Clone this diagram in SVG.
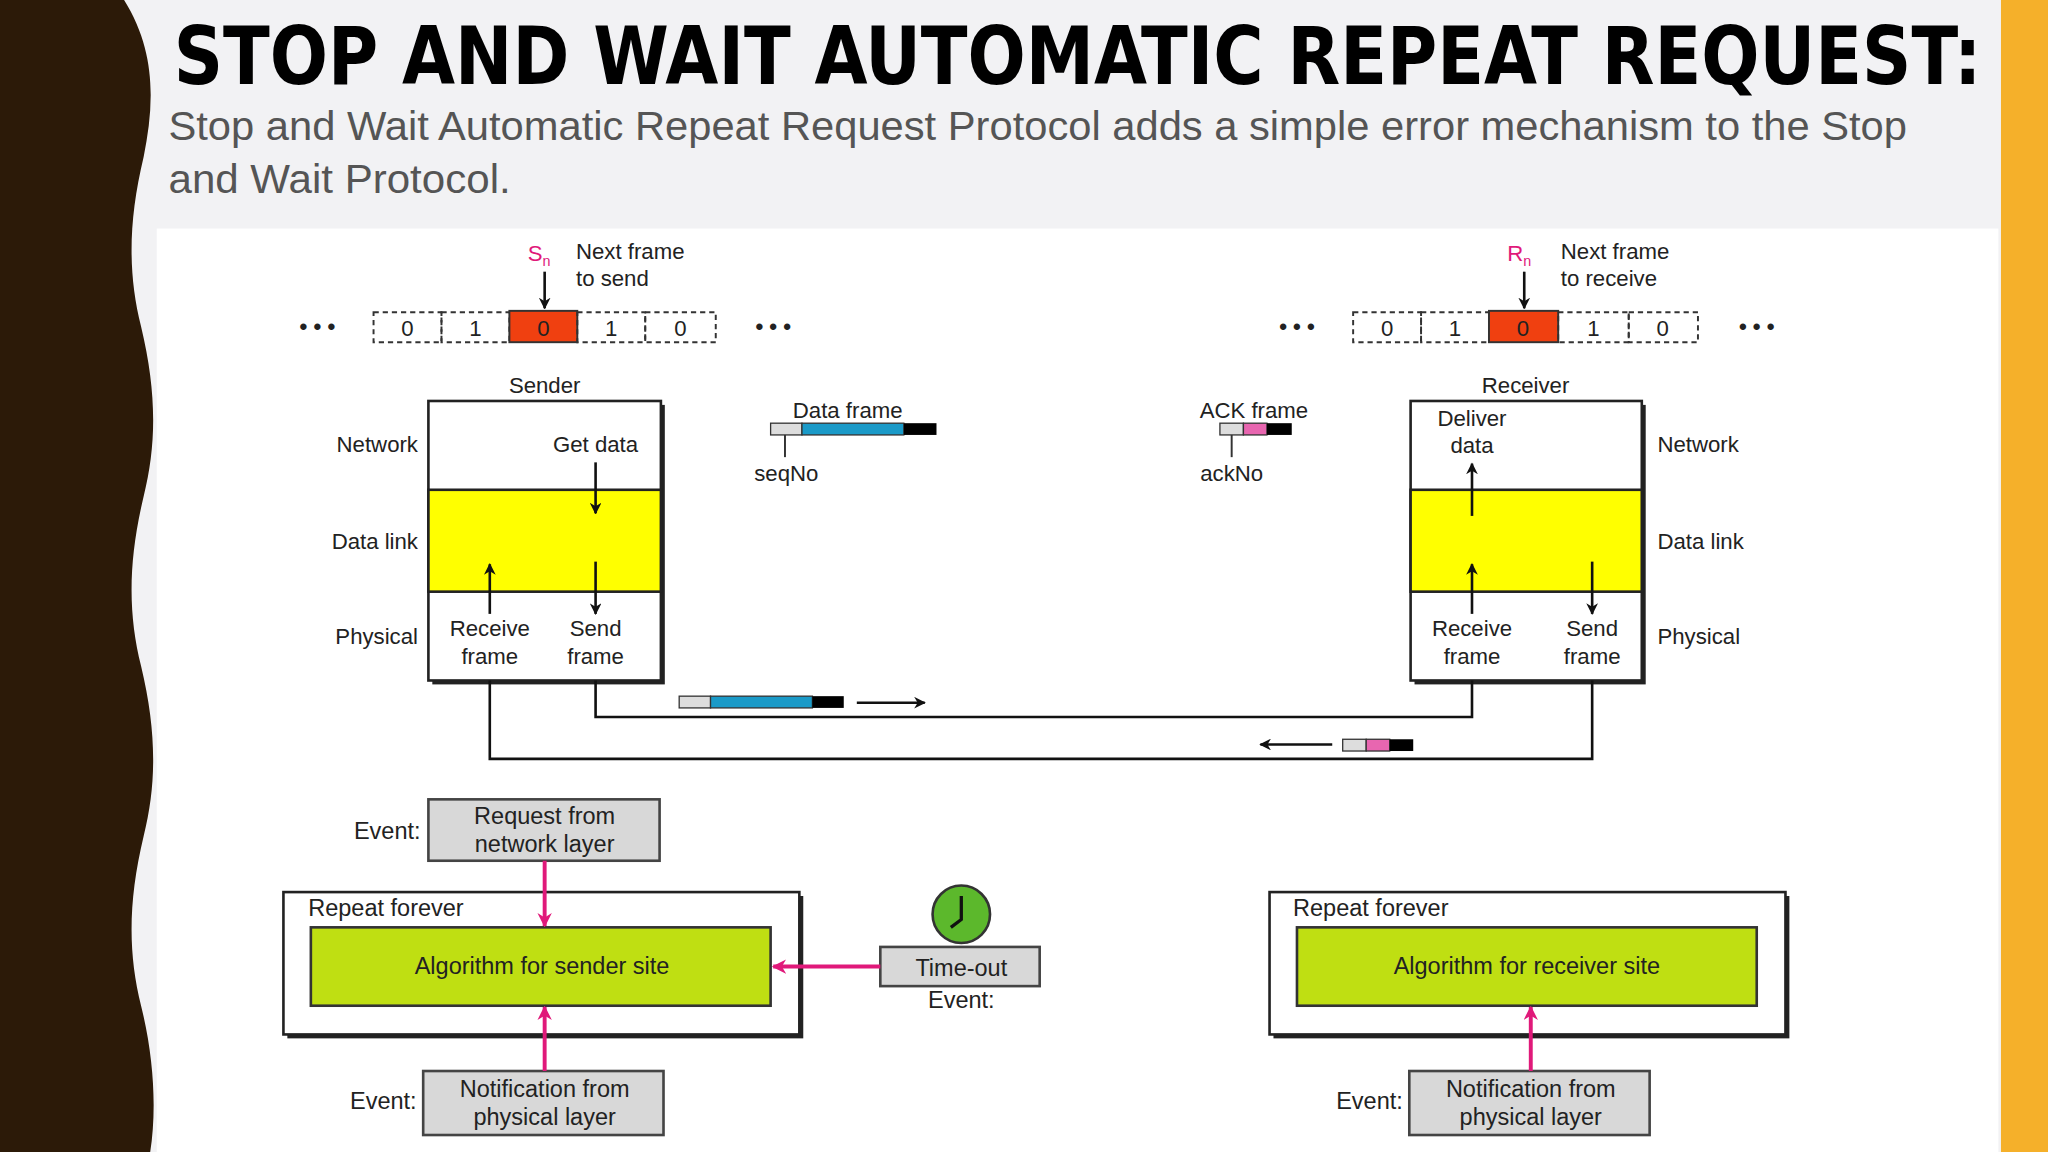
<svg xmlns="http://www.w3.org/2000/svg" width="2048" height="1152" viewBox="0 0 2048 1152">
<defs>
<marker id="ab" viewBox="0 0 10 10" refX="9" refY="5" markerWidth="9" markerHeight="9" orient="auto" markerUnits="userSpaceOnUse"><path d="M0,0 L10,5 L0,10 L3,5 z" fill="#111"/></marker>
<marker id="ap" viewBox="0 0 10 10" refX="9" refY="5" markerWidth="11" markerHeight="11" orient="auto" markerUnits="userSpaceOnUse"><path d="M0,0 L10,5 L0,10 L3,5 z" fill="#e0197a"/></marker>
<style>
text{font-family:"Liberation Sans",Arial,sans-serif;fill:#222}
.s{font-size:17px}
.m{text-anchor:middle}
.e{text-anchor:end}
.b{font-size:18px}
.ln{stroke:#111;stroke-width:2;fill:none}
.ar{stroke:#111;stroke-width:2;marker-end:url(#ab)}
.pk{stroke:#e0197a;stroke-width:3;marker-end:url(#ap)}
.cell{fill:none;stroke:#333;stroke-width:1.5;stroke-dasharray:4,3}
.box{fill:#fff;stroke:#222;stroke-width:2}
.gr{fill:#d8d8d8;stroke:#444;stroke-width:2}
.alg{fill:#bfdf12;stroke:#333;stroke-width:2}
</style>
</defs>
<g transform="scale(1.30612)">
<rect width="1568" height="882" fill="#f2f2f4"/>
<rect x="1532" y="0" width="36" height="882" fill="#f5b02a"/>
<path d="M0,0 L95,0 C120,40 118,80 110,120 C98,170 98,210 108,250 C120,300 120,340 110,380 C98,430 98,470 108,510 C120,560 120,600 110,640 C98,690 98,730 108,770 C118,810 120,850 115,882 L0,882 z" fill="#2c1a08"/>
<rect x="120" y="175" width="1410" height="707" fill="#fff"/>
<text x="133" y="64" font-weight="bold" font-size="62" textLength="1384" lengthAdjust="spacingAndGlyphs" style="fill:#000;font-family:'DejaVu Sans Condensed','Liberation Sans',sans-serif">STOP AND WAIT AUTOMATIC REPEAT REQUEST:</text>
<text x="129" y="107" font-size="31" textLength="1331" lengthAdjust="spacingAndGlyphs" style="fill:#555">Stop and Wait Automatic Repeat Request Protocol adds a simple error mechanism to the Stop</text>
<text x="129" y="148" font-size="31" textLength="262" lengthAdjust="spacingAndGlyphs" style="fill:#555">and Wait Protocol.</text>

<g id="sender-window">
<text x="404" y="200" class="s" style="fill:#e0197a">S<tspan font-size="11" dy="4">n</tspan></text>
<line x1="417" y1="208" x2="417" y2="236" class="ar"/>
<text x="441" y="198" class="s">Next frame</text><text x="441" y="219" class="s">to send</text>
<text x="243" y="256" class="s m" font-weight="bold">• • •</text><text x="592" y="256" class="s m" font-weight="bold">• • •</text>
<rect x="286" y="239" width="52" height="23" class="cell"/><rect x="338" y="239" width="52" height="23" class="cell"/>
<rect x="390" y="238" width="52" height="24" fill="#f04010" stroke="#333" stroke-width="1.5"/>
<rect x="442" y="239" width="52" height="23" class="cell"/><rect x="494" y="239" width="54" height="23" class="cell"/>
<text x="312" y="257" class="s m">0</text><text x="364" y="257" class="s m">1</text><text x="416" y="257" class="s m">0</text><text x="468" y="257" class="s m">1</text><text x="521" y="257" class="s m">0</text>
</g>
<g id="receiver-window">
<text x="1154" y="200" class="s" style="fill:#e0197a">R<tspan font-size="11" dy="4">n</tspan></text>
<line x1="1167" y1="208" x2="1167" y2="236" class="ar"/>
<text x="1195" y="198" class="s">Next frame</text><text x="1195" y="219" class="s">to receive</text>
<text x="993" y="256" class="s m" font-weight="bold">• • •</text><text x="1345" y="256" class="s m" font-weight="bold">• • •</text>
<rect x="1036" y="239" width="52" height="23" class="cell"/><rect x="1088" y="239" width="52" height="23" class="cell"/>
<rect x="1140" y="238" width="53" height="24" fill="#f04010" stroke="#333" stroke-width="1.5"/>
<rect x="1193" y="239" width="54" height="23" class="cell"/><rect x="1247" y="239" width="53" height="23" class="cell"/>
<text x="1062" y="257" class="s m">0</text><text x="1114" y="257" class="s m">1</text><text x="1166" y="257" class="s m">0</text><text x="1220" y="257" class="s m">1</text><text x="1273" y="257" class="s m">0</text>
</g>

<g id="sender">
<rect x="331" y="310" width="178" height="214" fill="#222"/>
<rect x="328" y="307" width="178" height="214" class="box"/>
<rect x="328" y="375" width="178" height="78" fill="#ffff00" stroke="#222" stroke-width="2"/>
<text x="417" y="301" class="s m">Sender</text>
<text x="320" y="346" class="s e">Network</text><text x="320" y="420" class="s e">Data link</text><text x="320" y="493" class="s e">Physical</text>
<text x="456" y="346" class="s m">Get data</text>
<line x1="456" y1="354" x2="456" y2="393" class="ar"/>
<line x1="375" y1="470" x2="375" y2="432" class="ar"/>
<line x1="456" y1="430" x2="456" y2="470" class="ar"/>
<text x="375" y="487" class="s m">Receive</text><text x="375" y="508" class="s m">frame</text>
<text x="456" y="487" class="s m">Send</text><text x="456" y="508" class="s m">frame</text>
</g>
<g id="receiver">
<rect x="1083" y="310" width="177" height="214" fill="#222"/>
<rect x="1080" y="307" width="177" height="214" class="box"/>
<rect x="1080" y="375" width="177" height="78" fill="#ffff00" stroke="#222" stroke-width="2"/>
<text x="1168" y="301" class="s m">Receiver</text>
<text x="1269" y="346" class="s">Network</text><text x="1269" y="420" class="s">Data link</text><text x="1269" y="493" class="s">Physical</text>
<text x="1127" y="326" class="s m">Deliver</text><text x="1127" y="347" class="s m">data</text>
<line x1="1127" y1="395" x2="1127" y2="355" class="ar"/>
<line x1="1127" y1="470" x2="1127" y2="432" class="ar"/>
<line x1="1219" y1="430" x2="1219" y2="470" class="ar"/>
<text x="1127" y="487" class="s m">Receive</text><text x="1127" y="508" class="s m">frame</text>
<text x="1219" y="487" class="s m">Send</text><text x="1219" y="508" class="s m">frame</text>
</g>

<g id="legend">
<text x="649" y="320" class="s m">Data frame</text>
<rect x="590" y="324" width="24" height="9" fill="#ddd" stroke="#333"/><rect x="614" y="324" width="78" height="9" fill="#1a9ac8" stroke="#333"/><rect x="692" y="324" width="25" height="9" fill="#000"/>
<line x1="601" y1="333" x2="601" y2="350" stroke="#333" stroke-width="1.5"/>
<text x="602" y="368" class="s m">seqNo</text>
<text x="960" y="320" class="s m">ACK frame</text>
<rect x="934" y="324" width="18" height="9" fill="#ddd" stroke="#333"/><rect x="952" y="324" width="18" height="9" fill="#e866b0" stroke="#333"/><rect x="970" y="324" width="19" height="9" fill="#000"/>
<line x1="943" y1="333" x2="943" y2="350" stroke="#333" stroke-width="1.5"/>
<text x="943" y="368" class="s m">ackNo</text>
</g>

<g id="sender-algo">
<rect x="220" y="686" width="395" height="109" fill="#222"/>
<rect x="217" y="683" width="395" height="109" class="box"/>
<text x="236" y="701" class="b">Repeat forever</text>
<rect x="238" y="710" width="352" height="60" class="alg"/>
<text x="415" y="746" class="b m">Algorithm for sender site</text>
</g>
<g id="ev-request">
<text x="322" y="642" class="b e">Event:</text>
<rect x="328" y="612" width="177" height="47" class="gr"/>
<text x="417" y="631" class="b m">Request from</text><text x="417" y="652" class="b m">network layer</text>
</g>
<g id="ev-notify-s">
<text x="319" y="849" class="b e">Event:</text>
<rect x="324" y="820" width="184" height="49" class="gr"/>
<text x="417" y="840" class="b m">Notification from</text><text x="417" y="861" class="b m">physical layer</text>
</g>
<g id="timeout">
<circle cx="736" cy="700" r="22" fill="#5cb82c" stroke="#333" stroke-width="2"/>
<path d="M736,686 V704 L728,710" stroke="#111" stroke-width="2.5" fill="none"/>
<rect x="674" y="725" width="122" height="30" class="gr"/>
<text x="736" y="747" class="b m">Time-out</text><text x="736" y="772" class="b m">Event:</text>
</g>
<g id="receiver-algo">
<rect x="975" y="686" width="395" height="109" fill="#222"/>
<rect x="972" y="683" width="395" height="109" class="box"/>
<text x="990" y="701" class="b">Repeat forever</text>
<rect x="993" y="710" width="352" height="60" class="alg"/>
<text x="1169" y="746" class="b m">Algorithm for receiver site</text>
</g>
<g id="ev-notify-r">
<text x="1074" y="849" class="b e">Event:</text>
<rect x="1079" y="820" width="184" height="49" class="gr"/>
<text x="1172" y="840" class="b m">Notification from</text><text x="1172" y="861" class="b m">physical layer</text>
</g>

<g id="connectors">
<path d="M456,521 V549 H1127 V521" class="ln" stroke-width="3"/>
<path d="M375,521 V581 H1219 V521" class="ln" stroke-width="3"/>
<rect x="520" y="533" width="24" height="9" fill="#ddd" stroke="#333"/><rect x="544" y="533" width="78" height="9" fill="#1a9ac8" stroke="#333"/><rect x="622" y="533" width="24" height="9" fill="#000"/>
<line x1="656" y1="538" x2="708" y2="538" class="ar"/>
<rect x="1028" y="566" width="18" height="9" fill="#ddd" stroke="#333"/><rect x="1046" y="566" width="18" height="9" fill="#e866b0" stroke="#333"/><rect x="1064" y="566" width="18" height="9" fill="#000"/>
<line x1="1020" y1="570" x2="965" y2="570" class="ar"/>
<line x1="417" y1="659" x2="417" y2="709" class="pk"/>
<line x1="417" y1="820" x2="417" y2="771" class="pk"/>
<line x1="674" y1="740" x2="592" y2="740" class="pk"/>
<line x1="1172" y1="820" x2="1172" y2="771" class="pk"/>
</g>
</g>
</svg>
